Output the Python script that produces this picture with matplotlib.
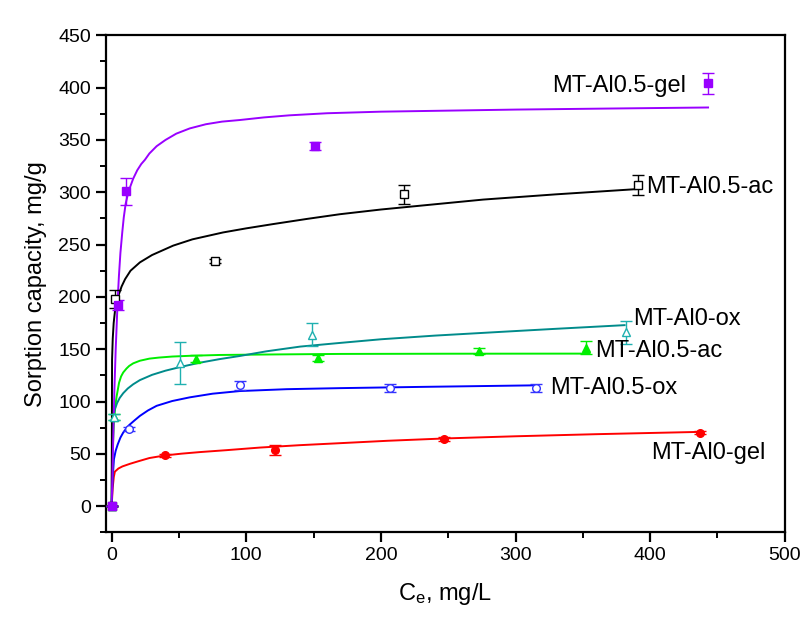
import matplotlib
matplotlib.use("Agg")
import matplotlib.pyplot as plt
from matplotlib.ticker import MultipleLocator

plt.rcParams['font.family'] = ['Liberation Sans', 'DejaVu Sans']
plt.rcParams['mathtext.default'] = 'regular'

# measured points (Ce, q, error)
gel05_x = [0, 4.9, 10.4, 151, 443]
gel05_y = [0, 192, 301, 344, 404]
gel05_err = [0, 5, 13, 4, 10]

ac05_x = [0, 2.5, 77, 217, 391]
ac05_y = [0, 198, 234, 298, 307]
ac05_err = [0, 9, 2, 9, 9.5]

ox0_x = [0, 1.7, 51, 149, 382]
ox0_y = [0, 85, 137, 164, 166]
ox0_err = [0, 3, 20, 11, 11]

acg05_x = [0, 1.7, 63, 153, 273, 352]
acg05_y = [0, 85, 141, 141.5, 148, 151.5]
acg05_err = [0, 3, 3, 3, 3, 6]

ox05_x = [0, 13, 95, 207, 315]
ox05_y = [0, 74, 115.5, 113, 113]
ox05_err = [0, 2, 4, 4, 4]

gel0_x = [0, 39.6, 121, 247, 437]
gel0_y = [0, 48.8, 53.5, 64.5, 70.4]
gel0_err = [0, 1.5, 5, 2, 1.5]

# fitted isotherm curves
gel05_cx = [0, 1, 2, 3, 3.7, 4.5, 5.4, 6.5, 7.9, 9, 10.4, 12, 14, 16, 19, 22, 24.7, 28,
            33.4, 40, 48, 58, 70, 82, 95, 113, 132, 160, 200, 250, 300, 370, 443]
gel05_cy = [0, 55, 110, 150, 172, 198, 220, 242, 262, 276, 289, 298, 306, 313, 321, 327, 331, 337,
            344, 350, 356, 361, 365, 367.5, 369, 371.5, 373.5, 375.5, 377, 378, 379, 380, 381]

ac05_cx = [0, 0.3, 0.8, 1.5, 2.5, 4, 5.5, 7.4, 10, 14, 21, 30, 45.7, 60, 82.8, 100, 120,
           145, 169.5, 200, 240, 276, 330, 390]
ac05_cy = [0, 140, 160, 175, 187, 196, 203, 210, 217, 225, 233, 240, 249, 255, 261.6, 265.5, 269.6,
           274.5, 279, 283.5, 288.5, 293, 298, 303]

ox0_cx = [0, 0.5, 1, 1.7, 2.4, 4, 6, 8.6, 12, 16, 21, 30, 40, 51, 65, 80, 95, 115, 140,
          169.5, 200, 240, 288, 330, 381]
ox0_cy = [0, 76, 83, 88.5, 92.5, 98.5, 103.5, 108, 112.5, 116.5, 120.5, 125.5, 129.5, 133, 137, 140.5, 143.5, 148, 152.5,
          156, 159.5, 163, 166.5, 169.5, 173]

acg05_cx = [0, 0.8, 1.7, 2.6, 3.7, 5.5, 7, 8.6, 11, 13, 16, 21, 28, 35, 45, 58, 80, 120,
            170, 250, 355]
acg05_cy = [0, 55, 80, 95, 105, 118, 124, 127.8, 131.5, 134, 136.5, 139, 141, 142, 143, 143.7, 144.5, 145,
            145.5, 145.7, 145.8]

ox05_cx = [0, 0.8, 1.7, 3, 4.5, 6.5, 8.6, 11, 13, 17, 21, 27, 33.4, 45, 58, 75, 95, 130,
           169.5, 230, 316]
ox05_cy = [0, 28, 45, 53, 59, 65.5, 70.4, 74.5, 77.5, 82, 86.3, 91.5, 95.9, 100.5, 104, 107.5, 110, 111.8,
           112.8, 114, 115.5]

gel0_cx = [0, 0.8, 1.6, 2.4, 5, 8, 13.6, 20, 28, 39.6, 52, 65.6, 85, 110, 139.8, 169.5,
           205, 247, 300, 360, 437]
gel0_cy = [0, 18, 28, 33, 36, 38, 40.5, 43, 46, 48.5, 50.2, 51.7, 53.5, 56, 58.3, 60.2,
           62.5, 64.7, 66.8, 68.8, 71]

names = ['MT-Al0.5-gel', 'MT-Al0.5-ac', 'MT-Al0-ox', 'MT-Al0.5-ac', 'MT-Al0.5-ox', 'MT-Al0-gel']
label_x = [327, 397, 387, 359, 326, 401]
label_y = [402, 305, 179, 148, 112.5, 51]

fig = plt.figure(figsize=(8, 6.19), dpi=100)
ax = fig.add_axes([0.132, 0.14, 0.849, 0.803])

series = [
    (gel05_x, gel05_y, gel05_err, gel05_cx, gel05_cy, '#9900FF', '#9900FF', 's', '#9900FF'),
    (ac05_x, ac05_y, ac05_err, ac05_cx, ac05_cy, 'black', 'black', 's', 'white'),
    (ox0_x, ox0_y, ox0_err, ox0_cx, ox0_cy, '#008B8B', '#1FB0B0', '^', 'white'),
    (acg05_x, acg05_y, acg05_err, acg05_cx, acg05_cy, '#00EE00', '#00EE00', '^', '#00EE00'),
    (ox05_x, ox05_y, ox05_err, ox05_cx, ox05_cy, '#0000FF', '#3333FF', 'o', 'white'),
    (gel0_x, gel0_y, gel0_err, gel0_cx, gel0_cy, '#FF0000', '#FF0000', 'o', '#FF0000'),
]

for px, py, pe, cx, cy, lc, mc, mk, fc in reversed(series):
    ax.plot(cx, cy, color=lc, lw=1.4, zorder=2, solid_joinstyle='round')
    ax.errorbar(px, py, yerr=pe, fmt=mk, color=mc, mfc=fc, mec=mc, ms=5.5,
                mew=1, elinewidth=1, capsize=4, capthick=1, zorder=3)

for name, tx, ty in zip(names, label_x, label_y):
    ax.text(tx, ty, name, fontsize=17, va='center', ha='left', color='black')

ax.set_xlim(-4.5, 500)
ax.set_ylim(-25, 450)
ax.xaxis.set_major_locator(MultipleLocator(100))
ax.xaxis.set_minor_locator(MultipleLocator(50))
ax.yaxis.set_major_locator(MultipleLocator(50))
ax.yaxis.set_minor_locator(MultipleLocator(25))
ax.tick_params(which='major', direction='out', length=7, width=1.6, labelsize=14, top=False, right=False)
ax.tick_params(which='minor', direction='out', length=4, width=1.4, top=False, right=False)
for s in ax.spines.values():
    s.set_linewidth(1.6)

ax.set_xlabel('C$_e$, mg/L', fontsize=17, labelpad=12)
ax.set_ylabel('Sorption capacity, mg/g', fontsize=17, labelpad=8)

fig.savefig('out.png', dpi=100, facecolor='white')
